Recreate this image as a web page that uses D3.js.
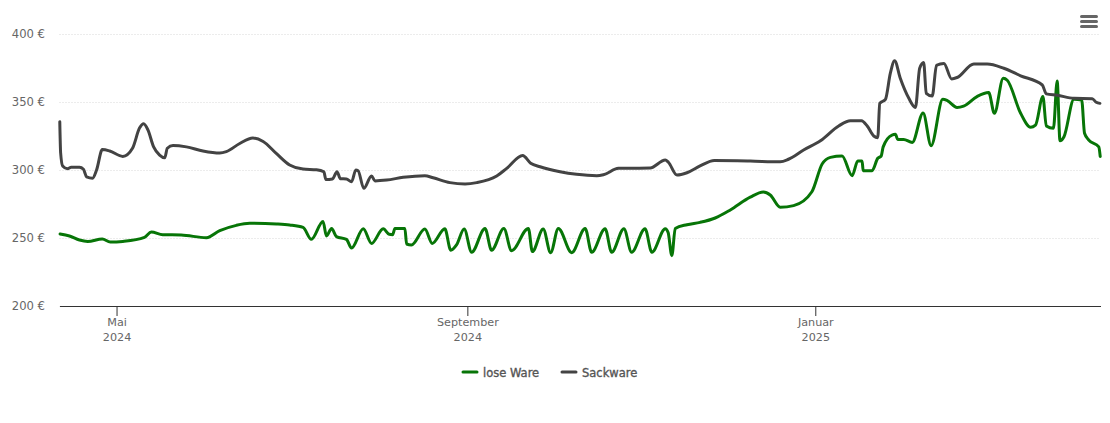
<!DOCTYPE html>
<html>
<head>
<meta charset="utf-8">
<script src="https://cdn.jsdelivr.net/npm/d3@7"></script>
<style>
  html, body { margin: 0; padding: 0; background: #fff; }
  text { font-family: "DejaVu Sans", sans-serif; }
</style>
</head>
<body>
<div id="chart"></div>
<script>
// days since the first date on the axis, and price in euro
const startDay = '2024-04-11';
const endDay = '2025-04-11';

const looseDays = [0.2,3.5,7,9.9,15,17.8,22.2,29.8,32.2,36.2,42.7,51.5,56.2,62,66.7,76.1,80.7,85.4,88.3,92.4,93.6,95.4,97.1,100.6,102.4,106.5,109.4,113.5,115.6,116.8,117.6,121.1,121.7,123.4,128.1,130.7,135.1,137.2,139.2,141.9,144.5,149.2,151.5,155.8,158.5,164.4,165.8,169.6,172.2,174.9,179.6,184.3,186.6,191.3,193.6,197.9,200.6,205.3,207.7,212.4,213.4,214.7,215.9,220,224.6,229.9,235.2,242.2,246.8,249.2,252.7,257.4,263.8,267.4,270.3,274.4,277.9,279.9,281.4,281.8,284.9,286.9,288.1,288.8,291.9,293.1,293.9,296,299,302.8,305.6,309.7,311.3,314.7,317,321.7,325.8,327.8,330.9,332.3,337,340.5,342.2,344.8,346,348.5,349.8,350.8,352.2,355.7,358.4,359.4,360.9,364.4,364.9];
const looseValues = [253,251.5,248.5,247.5,249.3,247,247.5,250.5,254.4,252.4,252.2,250.2,255.4,259.3,260.8,260.3,259.6,257.8,249,262.2,251.5,257,251,249,242.6,256.8,246,256.8,252.7,252.4,257,257,245.6,244.9,256.6,246,256.8,241,244.9,256.6,239.5,257,241,257,240.7,257,240,256.6,239.2,257,239.2,257,239.5,256.8,239.5,256.8,239.5,256.8,239.5,256.8,254,237,257,259.8,261.5,264.7,270.6,280,283.8,281.6,272.6,273.8,284,304.4,309.3,310.3,295.8,306.6,306.6,299.5,299.5,308.6,310.3,317,325.7,326.2,322.5,322.5,320.3,342,317.9,352,351,346,347,354,357,341.7,367.4,366,341.7,331.4,333,354,332.4,330.7,365.4,321.5,324.5,352,351.5,327,322,317,310];

const sackDays = [0.1,0.4,1.1,2.8,4.1,7,8.4,9.5,11.6,13,15,17.6,22.2,25.6,28.1,29.5,31,33,35.1,36.9,37.8,39.8,44.5,50.3,56.2,58.5,63.2,67.8,71.4,76.1,80.7,85.4,90.1,92.7,93.4,95.7,97.3,98.5,100.6,102.4,103.9,104.7,106.7,109.4,110.6,114.7,120.5,128.1,131,136.9,142.2,146.3,153.3,156.8,162.4,165.2,168.5,175.5,181.3,188.4,190.7,196,207.1,212.4,213.5,216.5,220,224.6,229.6,242.2,252.7,255.6,260.9,266.8,273.2,277.3,281.2,283.2,285.5,286.9,287.6,289.6,291.3,292.8,294.8,297.8,300.1,301.6,303,303.9,306,307.5,310.1,312.8,314.7,320.6,325.3,331.1,337,344.6,346,349.8,355.7,362.1,363.5,364.8];
const sackValues = [335.5,312.5,303,301,302,302,300.5,295,294,300,315,314,310,316,331,334,329.5,317,311,309,316,318,317,314,312.5,313.5,319.5,323.5,321,312,303.7,300.7,300.2,298.7,293,293.4,298.7,293.6,293.4,291.4,300,299.5,286.5,295.6,292,292.6,294.6,295.8,294.3,290.7,289.7,290.7,295.6,301.2,310.6,305,302.4,298.7,296.8,295.8,296.5,301.2,301.5,307.4,305.7,296.3,298,303,307,306.6,306,307.9,314.7,321.5,332.4,336.3,336.3,332.4,325,323.8,349,352,371,380.4,367.4,352.7,346,374.8,379,356.4,354.4,377,378.4,367,368,378,378,374.8,369.3,362.5,356,355,352.7,352.4,349.8,349];

const yTicks = [200, 250, 300, 350, 400];
const xTickDates = ['2024-05-01', '2024-09-01', '2025-01-01'];
const xTickMonths = ['Mai', 'September', 'Januar'];
const xTickYears = ['2024', '2024', '2025'];
const seriesNames = ['lose Ware', 'Sackware'];
const seriesColors = ['#077507', '#434343'];

const width = 1110, height = 423;
const plotLeft = 59.5, plotRight = 1100.5, plotTop = 34, plotBottom = 306;

const parseDay = d3.utcParse('%Y-%m-%d');
const dayToDate = d => new Date(+parseDay(startDay) + d * 864e5);

const x = d3.scaleUtc().domain([parseDay(startDay), parseDay(endDay)]).range([plotLeft, plotRight]);
const y = d3.scaleLinear().domain([200, 400]).range([plotBottom, plotTop]);

const svg = d3.select('#chart').append('svg')
  .attr('width', width)
  .attr('height', height)
  .style('display', 'block');

// horizontal grid and euro labels
const yAxis = svg.append('g')
  .attr('transform', `translate(${plotLeft},0)`)
  .call(d3.axisLeft(y).tickValues(yTicks).tickSize(-(plotRight - plotLeft)).tickPadding(14.5).tickFormat(d => d + ' €'));
yAxis.select('.domain').remove();
yAxis.selectAll('line')
  .attr('stroke', '#d8d8d8')
  .attr('stroke-dasharray', '1,2');
yAxis.selectAll('text')
  .attr('fill', '#666')
  .attr('dy', '0.28em')
  .style('font-size', '11.6px');

// month axis with the year on a second line
const monthOf = d3.scaleOrdinal().domain(xTickDates).range(xTickMonths);
const yearOf = d3.scaleOrdinal().domain(xTickDates).range(xTickYears);
const xAxis = svg.append('g')
  .attr('transform', `translate(0,${plotBottom})`)
  .call(d3.axisBottom(x).tickValues(xTickDates.map(parseDay)).tickSize(10).tickSizeOuter(0).tickFormat(() => ''));
xAxis.select('.domain').attr('stroke', '#333');
xAxis.selectAll('line').attr('stroke', '#333');
xAxis.selectAll('.tick text').each(function (d) {
  const key = d3.utcFormat('%Y-%m-%d')(d);
  const t = d3.select(this).attr('fill', '#666').style('font-size', '11.2px').attr('y', 20).attr('dy', null);
  t.append('tspan').attr('x', 0).text(monthOf(key));
  t.append('tspan').attr('x', 0).attr('dy', 15).text(yearOf(key));
});

const line = d3.line()
  .x(d => x(dayToDate(d[0])))
  .y(d => y(d[1]))
  .curve(d3.curveMonotoneX);

const series = [
  d3.zip(looseDays, looseValues),
  d3.zip(sackDays, sackValues)
];

svg.selectAll('.series')
  .data(series)
  .enter()
  .append('path')
  .attr('class', 'series')
  .attr('d', line)
  .attr('fill', 'none')
  .attr('stroke', (d, i) => seriesColors[i])
  .attr('stroke-width', 3)
  .attr('stroke-linejoin', 'round')
  .attr('stroke-linecap', 'round');

// legend
const legendX = [463, 562];
const legend = svg.selectAll('.legend')
  .data(seriesNames)
  .enter()
  .append('g')
  .attr('class', 'legend')
  .attr('transform', (d, i) => `translate(${legendX[i]},372)`);
legend.append('line')
  .attr('x2', 14)
  .attr('stroke', (d, i) => seriesColors[i])
  .attr('stroke-width', 3)
  .attr('stroke-linecap', 'round');
legend.append('text')
  .attr('x', 20)
  .attr('y', 5)
  .attr('fill', '#555')
  .attr('stroke', '#555')
  .attr('stroke-width', 0.35)
  .style('font-size', '11.5px')
  .text(d => d);

// export menu icon
svg.append('g')
  .selectAll('line')
  .data([16.5, 21.5, 26.5])
  .enter()
  .append('line')
  .attr('x1', 1081.5)
  .attr('x2', 1096.5)
  .attr('y1', d => d)
  .attr('y2', d => d)
  .attr('stroke', '#666')
  .attr('stroke-width', 3)
  .attr('stroke-linecap', 'round');
</script>
</body>
</html>
